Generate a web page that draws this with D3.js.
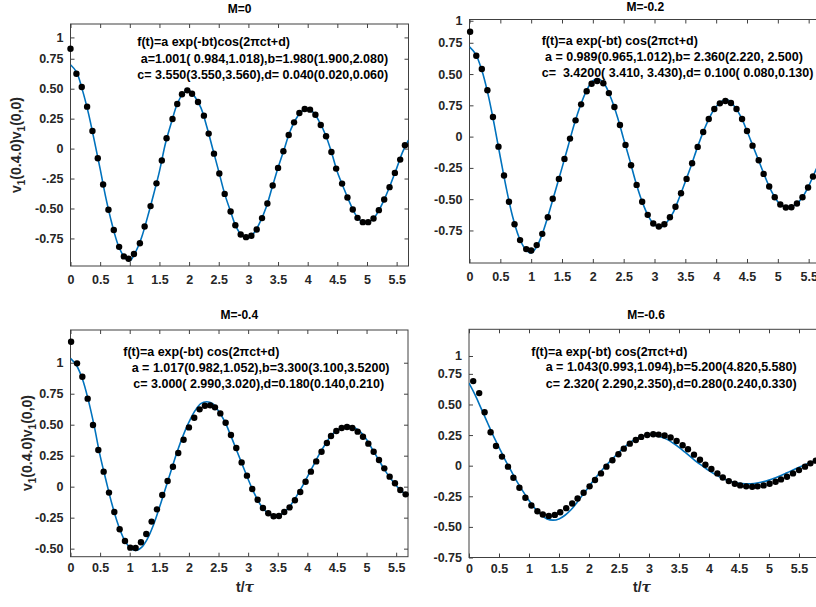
<!DOCTYPE html>
<html><head><meta charset="utf-8">
<script src="https://cdn.jsdelivr.net/npm/d3@7"></script>
<style>
body{margin:0;background:#fff}
svg{display:block}
text{font-family:"Liberation Sans",Arial,Helvetica,sans-serif;font-weight:bold;white-space:pre}
</style>
</head><body>
<svg id="c" width="816" height="607" xmlns="http://www.w3.org/2000/svg"></svg>
<script>
// ---------- data ----------
const XT = [0,0.5,1,1.5,2,2.5,3,3.5,4,4.5,5,5.5];
const XL = ["0","0.5","1","1.5","2","2.5","3","3.5","4","4.5","5","5.5"];

const YT1 = [-0.75,-0.5,-0.25,0,0.25,0.5,0.75,0.928];
const YL1 = ["-0.75","-0.50","-.25","0","0.25","0.50","0.75","1"];
const YT2 = [-0.75,-0.5,-0.25,0,0.25,0.5,0.75,0.926];
const YL2 = ["-0.75","-0.50","-0.25","0","0.75","0.50","0.75","1"];
const YT3 = [-0.5,-0.25,0,0.25,0.5,0.75,1];
const YL3 = ["-0.50","-0.25","0","0.25","0.50","0.75","1"];
const YT4 = [-0.75,-0.5,-0.25,0,0.25,0.5,0.75,0.896];
const YL4 = ["-0.75","-0.50","-0.25","0","0.25","0.50","0.75","1"];

const TITLES = ["M=0","M=-0.2","M=-0.4","M=-0.6"];

const ANN1 = ["f(t)=a exp(-bt)cos(2πct+d)","a=1.001( 0.984,1.018),b=1.980(1.900,2.080)","c= 3.550(3.550,3.560),d= 0.040(0.020,0.060)"];
const ANN2 = ["f(t)=a exp(-bt) cos(2πct+d)","a = 0.989(0.965,1.012),b= 2.360(2.220, 2.500)","c=  3.4200( 3.410, 3.430),d= 0.100( 0.080,0.130)"];
const ANN3 = ["f(t)=a exp(-bt) cos(2πct+d)","a = 1.017(0.982,1.052),b=3.300(3.100,3.5200)","c= 3.000( 2.990,3.020),d=0.180(0.140,0.210)"];
const ANN4 = ["f(t)=a exp(-bt) cos(2πct+d)","a = 1.043(0.993,1.094),b=5.200(4.820,5.580)","c= 2.320( 2.290,2.350),d=0.280(0.240,0.330)"];

// measured points
const P1_T = [0,0.10,0.19,0.28,0.37,0.46,0.55,0.64,0.73,0.82,0.90,0.98,1.07,1.17,1.25,1.35,1.45,1.54,1.62,1.72,1.80,1.88,1.97,2.05,2.15,2.25,2.33,2.42,2.51,2.60,2.70,2.78,2.87,2.96,3.05,3.14,3.23,3.32,3.41,3.50,3.59,3.68,3.77,3.86,3.95,4.04,4.13,4.22,4.31,4.40,4.48,4.58,4.67,4.76,4.84,4.93,5.02,5.11,5.20,5.29,5.38,5.47,5.56,5.64];
const P1_V = [0.833,0.625,0.514,0.35,0.147,-0.08,-0.30,-0.51,-0.68,-0.82,-0.90,-0.92,-0.88,-0.79,-0.65,-0.48,-0.29,-0.10,0.086,0.247,0.372,0.453,0.486,0.458,0.389,0.275,0.125,-0.042,-0.208,-0.378,-0.525,-0.64,-0.717,-0.739,-0.728,-0.675,-0.58,-0.458,-0.308,-0.161,-0.022,0.114,0.219,0.297,0.33,0.325,0.283,0.197,0.103,-0.028,-0.167,-0.292,-0.408,-0.508,-0.578,-0.614,-0.614,-0.583,-0.514,-0.425,-0.322,-0.203,-0.092,0.028];

const P2_T = [0.01,0.11,0.20,0.29,0.38,0.47,0.56,0.64,0.73,0.82,0.92,1.00,1.09,1.18,1.27,1.35,1.45,1.54,1.63,1.72,1.81,1.90,1.98,2.07,2.17,2.26,2.35,2.44,2.53,2.62,2.71,2.80,2.89,2.98,3.07,3.16,3.25,3.34,3.43,3.52,3.61,3.70,3.79,3.88,3.97,4.06,4.15,4.24,4.33,4.42,4.50,4.59,4.69,4.77,4.86,4.95,5.04,5.13,5.22,5.31,5.40,5.49,5.57];
const P2_V = [0.838,0.646,0.54,0.37,0.157,-0.08,-0.311,-0.521,-0.70,-0.827,-0.899,-0.91,-0.867,-0.777,-0.644,-0.497,-0.338,-0.178,-0.016,0.13,0.258,0.362,0.423,0.444,0.426,0.348,0.237,0.093,-0.066,-0.229,-0.386,-0.521,-0.625,-0.694,-0.718,-0.70,-0.644,-0.561,-0.452,-0.338,-0.213,-0.082,0.037,0.141,0.221,0.266,0.285,0.269,0.221,0.141,0.045,-0.072,-0.189,-0.298,-0.399,-0.484,-0.543,-0.566,-0.564,-0.535,-0.484,-0.407,-0.319];

const P3_T = [0.01,0.11,0.20,0.29,0.38,0.47,0.56,0.65,0.74,0.83,0.92,1.01,1.10,1.19,1.28,1.37,1.46,1.55,1.64,1.73,1.82,1.91,2.00,2.09,2.18,2.27,2.36,2.44,2.53,2.62,2.71,2.80,2.89,2.98,3.07,3.16,3.25,3.34,3.43,3.52,3.61,3.70,3.79,3.88,3.97,4.06,4.15,4.24,4.33,4.40,4.49,4.58,4.67,4.76,4.85,4.94,5.03,5.12,5.21,5.30,5.39,5.48,5.57,5.66];
const P3_V = [1.169,0.995,0.887,0.71,0.497,0.296,0.121,-0.048,-0.204,-0.344,-0.438,-0.492,-0.495,-0.449,-0.382,-0.282,-0.183,-0.067,0.046,0.161,0.272,0.379,0.478,0.556,0.624,0.653,0.656,0.64,0.591,0.516,0.417,0.312,0.196,0.089,-0.019,-0.105,-0.172,-0.215,-0.239,-0.237,-0.204,-0.167,-0.11,-0.043,0.04,0.121,0.204,0.282,0.352,0.409,0.449,0.473,0.481,0.473,0.444,0.403,0.347,0.282,0.215,0.148,0.081,0.027,-0.027,-0.062];

const P4_T = [0.07,0.17,0.26,0.36,0.45,0.55,0.65,0.74,0.84,0.94,1.04,1.14,1.23,1.33,1.43,1.52,1.62,1.72,1.81,1.91,2.01,2.10,2.20,2.29,2.39,2.49,2.58,2.68,2.78,2.87,2.97,3.07,3.16,3.26,3.36,3.46,3.56,3.65,3.75,3.85,3.94,4.04,4.14,4.23,4.33,4.43,4.52,4.62,4.72,4.81,4.91,5.01,5.11,5.20,5.30,5.40,5.50,5.60,5.69,5.78];
const P4_V = [0.691,0.593,0.437,0.273,0.161,0.074,-0.008,-0.098,-0.18,-0.262,-0.325,-0.372,-0.399,-0.41,-0.402,-0.38,-0.347,-0.309,-0.268,-0.221,-0.169,-0.117,-0.063,-0.008,0.044,0.093,0.139,0.18,0.21,0.235,0.251,0.257,0.254,0.246,0.23,0.202,0.167,0.134,0.09,0.049,0.008,-0.027,-0.063,-0.096,-0.126,-0.148,-0.161,-0.169,-0.172,-0.169,-0.161,-0.148,-0.131,-0.112,-0.09,-0.063,-0.036,-0.008,0.019,0.041];

// fitted curves
const CT = [0,0.1,0.2,0.3,0.4,0.5,0.6,0.7,0.8,0.9,1.0,1.1,1.2,1.3,1.4,1.5,1.6,1.7,1.8,1.9,2.0,2.1,2.2,2.3,2.4,2.5,2.6,2.7,2.8,2.9,3.0,3.1,3.2,3.3,3.4,3.5,3.6,3.7,3.8,3.9,4.0,4.1,4.2,4.3,4.4,4.5,4.6,4.7,4.8,4.9,5.0,5.1,5.2,5.3,5.4,5.5,5.6,5.7];
const CT4 = [0,0.1,0.2,0.3,0.4,0.5,0.6,0.7,0.8,0.9,1.0,1.1,1.2,1.3,1.4,1.5,1.6,1.7,1.8,1.9,2.0,2.1,2.2,2.3,2.4,2.5,2.6,2.7,2.8,2.9,3.0,3.1,3.2,3.3,3.4,3.5,3.6,3.7,3.8,3.9,4.0,4.1,4.2,4.3,4.4,4.5,4.6,4.7,4.8,4.9,5.0,5.1,5.2,5.3,5.4,5.5,5.6,5.7,5.8,5.9];
const CV1 = [0.70,0.64,0.49,0.30,0.07,-0.17,-0.42,-0.63,-0.80,-0.90,-0.935,-0.86,-0.74,-0.57,-0.385,-0.19,0.04,0.215,0.372,0.46,0.485,0.43,0.34,0.18,-0.005,-0.19,-0.378,-0.525,-0.66,-0.73,-0.745,-0.70,-0.61,-0.49,-0.325,-0.16,-0.01,0.14,0.245,0.31,0.33,0.30,0.22,0.115,-0.028,-0.195,-0.32,-0.44,-0.545,-0.605,-0.618,-0.59,-0.515,-0.415,-0.295,-0.165,-0.03,0.07];
const CV2 = [0.718,0.66,0.53,0.34,0.10,-0.165,-0.42,-0.64,-0.80,-0.895,-0.93,-0.87,-0.75,-0.59,-0.42,-0.25,-0.075,0.10,0.25,0.37,0.445,0.46,0.41,0.30,0.155,-0.02,-0.19,-0.37,-0.52,-0.635,-0.705,-0.725,-0.685,-0.61,-0.49,-0.36,-0.225,-0.08,0.05,0.16,0.24,0.285,0.29,0.24,0.16,0.045,-0.08,-0.205,-0.33,-0.44,-0.52,-0.56,-0.565,-0.54,-0.485,-0.395,-0.285,-0.18];
const CV3 = [1.035,0.98,0.87,0.70,0.49,0.25,0.05,-0.14,-0.30,-0.42,-0.49,-0.515,-0.49,-0.42,-0.31,-0.17,-0.02,0.13,0.28,0.41,0.52,0.61,0.67,0.685,0.67,0.61,0.53,0.42,0.30,0.18,0.06,-0.05,-0.14,-0.20,-0.235,-0.237,-0.21,-0.16,-0.09,-0.01,0.08,0.17,0.26,0.34,0.41,0.455,0.48,0.49,0.475,0.44,0.38,0.30,0.22,0.14,0.07,0.01,-0.04,-0.07];
const CV4 = [0.675,0.58,0.47,0.36,0.25,0.15,0.05,-0.04,-0.13,-0.21,-0.285,-0.35,-0.40,-0.435,-0.445,-0.435,-0.405,-0.36,-0.30,-0.235,-0.17,-0.105,-0.045,0.01,0.06,0.11,0.155,0.195,0.225,0.243,0.25,0.247,0.235,0.215,0.185,0.15,0.11,0.07,0.03,-0.005,-0.04,-0.07,-0.097,-0.118,-0.133,-0.143,-0.147,-0.147,-0.142,-0.132,-0.118,-0.10,-0.08,-0.058,-0.036,-0.013,0.008,0.028,0.046,0.06];

// ---------- layout ----------
const panels = [
  {title:TITLES[0], T:P1_T, V:P1_V, CT:CT, CV:CV1, yt:YT1, yl:YL1, ann:ANN1,
   box:[70.5,408.5,24,266], xd:[0,5.7], yd:[-0.98,1.04], titleY:13, xpad:9,
   annPos:[[137.3,46],[140.7,62.5],[137.3,78.5]], ylab:[21,145], xlab:null},
  {title:TITLES[1], T:P2_T, V:P2_V, CT:CT, CV:CV2, yt:YT2, yl:YL2, ann:ANN2,
   box:[469.5,821,19.5,263], xd:[0,5.7], yd:[-1.01,0.936], titleY:11, xpad:9,
   annPos:[[541.7,44.5],[545,61],[541.7,76.5]], ylab:null, xlab:null},
  {title:TITLES[2], T:P3_T, V:P3_V, CT:CT, CV:CV3, yt:YT3, yl:YL3, ann:ANN3,
   box:[70.5,408,330,556.7], xd:[0,5.7], yd:[-0.565,1.264], titleY:319, xpad:6,
   annPos:[[123.3,356],[131.7,372],[133.3,387.5]], ylab:[32,443], xlab:[245,592]},
  {title:TITLES[3], T:P4_T, V:P4_V, CT:CT4, CV:CV4, yt:YT4, yl:YL4, ann:ANN4,
   box:[469,823,329.3,557.5], xd:[0,5.9], yd:[-0.75,1.114], titleY:319, xpad:7,
   annPos:[[531.3,356],[545.7,371],[545.7,387.5]], ylab:null, xlab:[642,592]}
];

const svg = d3.select("#c");
const AX = "#404040", TXT = "#262626", BLUE = "#0072BD";

panels.forEach((p,pi)=>{
  const [bx0,bx1,by0,by1] = p.box;
  const x = d3.scaleLinear().domain(p.xd).range([bx0,bx1]);
  const y = d3.scaleLinear().domain(p.yd).range([by1,by0]);
  const g = svg.append("g");

  g.append("clipPath").attr("id","clip"+pi).append("rect")
    .attr("x",bx0).attr("y",by0).attr("width",bx1-bx0).attr("height",by1-by0);

  const styleAxis = sel => {
    sel.select(".domain").remove();
    sel.selectAll(".tick line").attr("stroke",AX);
    sel.selectAll(".tick text").attr("fill",TXT).style("font-size","12.5px")
      .style("font-family",'"Liberation Sans",Arial,Helvetica,sans-serif').style("font-weight","bold");
  };

  g.append("g").attr("transform",`translate(0,${by1})`)
    .call(d3.axisBottom(x).tickValues(XT).tickFormat((d,i)=>XL[i]).tickSizeInner(-4).tickSizeOuter(0).tickPadding(p.xpad))
    .call(styleAxis);
  g.append("g").attr("transform",`translate(0,${by0})`)
    .call(d3.axisTop(x).tickValues(XT).tickFormat("").tickSizeInner(-4).tickSizeOuter(0))
    .call(styleAxis);
  g.append("g").attr("transform",`translate(${bx0},0)`)
    .call(d3.axisLeft(y).tickValues(p.yt).tickFormat((d,i)=>p.yl[i]).tickSizeInner(-4).tickSizeOuter(0).tickPadding(7))
    .call(styleAxis);
  g.append("g").attr("transform",`translate(${bx1},0)`)
    .call(d3.axisRight(y).tickValues(p.yt).tickFormat("").tickSizeInner(-4).tickSizeOuter(0))
    .call(styleAxis);

  g.append("rect").attr("x",bx0).attr("y",by0).attr("width",bx1-bx0).attr("height",by1-by0)
    .attr("fill","none").attr("stroke",AX).attr("stroke-width",1);

  const curve = p.CT.map((t,i)=>[t,p.CV[i]]);
  g.append("path").datum(curve)
    .attr("clip-path",`url(#clip${pi})`)
    .attr("fill","none").attr("stroke",BLUE).attr("stroke-width",1.6)
    .attr("d", d3.line().x(d=>x(d[0])).y(d=>y(d[1])).curve(d3.curveCatmullRom.alpha(0.5)));

  g.append("g").selectAll("circle").data(p.T.map((t,i)=>[t,p.V[i]])).join("circle")
    .attr("cx",d=>x(d[0])).attr("cy",d=>y(d[1])).attr("r",3.2).attr("fill","#000");

  g.append("text").attr("x",(bx0+bx1)/2).attr("y",p.titleY).attr("text-anchor","middle")
    .attr("fill","#000").style("font-size","12px").text(p.title);

  p.ann.forEach((s,i)=>{
    g.append("text").attr("x",p.annPos[i][0]).attr("y",p.annPos[i][1])
      .attr("fill","#000").style("font-size","12.5px").attr("xml:space","preserve").text(s);
  });

  if (p.ylab) {
    const t = g.append("text").attr("transform",`translate(${p.ylab[0]},${p.ylab[1]}) rotate(-90)`)
      .attr("text-anchor","middle").attr("fill",TXT).style("font-size","14px");
    t.append("tspan").text("v");
    t.append("tspan").attr("dy",4).style("font-size","10px").text("1");
    t.append("tspan").attr("dy",-4).text("(0.4.0)v");
    t.append("tspan").attr("dy",4).style("font-size","10px").text("1");
    t.append("tspan").attr("dy",-4).text("(0,0)");
  }
  if (p.xlab) {
    const t = g.append("text").attr("x",p.xlab[0]).attr("y",p.xlab[1])
      .attr("text-anchor","middle").attr("fill",TXT).style("font-size","14px");
    t.append("tspan").text("t/");
    t.append("tspan").style("font-style","italic").style("font-family",'"DejaVu Serif",serif').text("τ");
  }
});
</script>
</body></html>
